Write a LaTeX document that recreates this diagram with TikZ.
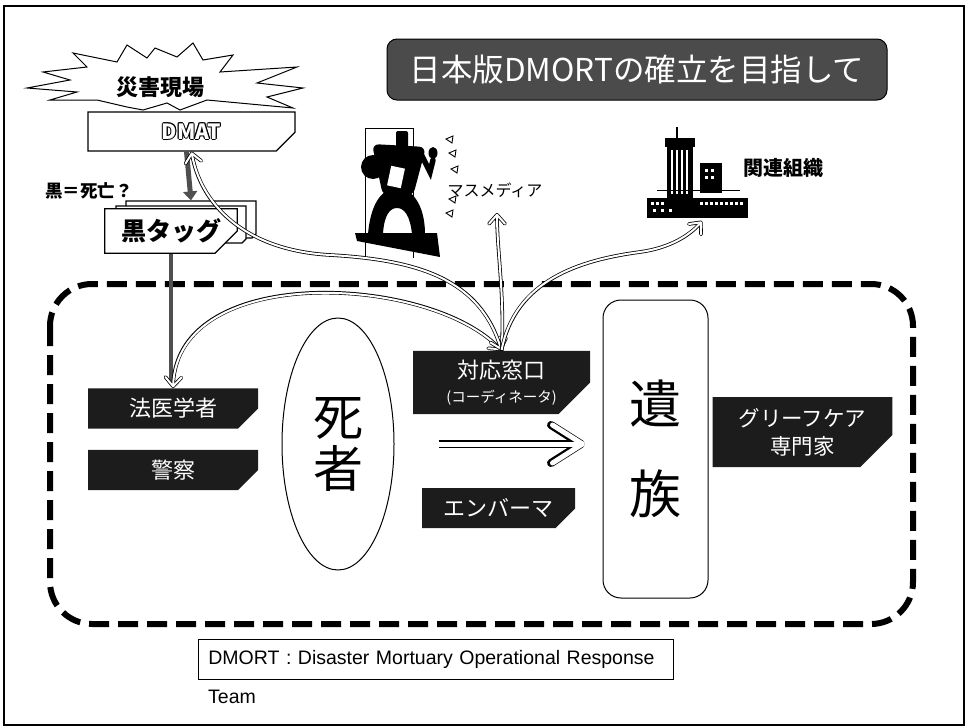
\documentclass[tikz,border=0pt]{standalone}
\usepackage{fontspec}
\setmainfont{Noto Sans CJK JP}
\newfontfamily\latinfont{Liberation Sans}
\usetikzlibrary{arrows.meta, positioning, shapes.misc, shapes.geometric}
\definecolor{boxDark}{HTML}{1C1C1C}
\definecolor{titleGray}{HTML}{4B4B4B}
\definecolor{tagGray}{HTML}{4F4F4F}

% white letters with a black rim
\newcommand\hollowtext[1]{\setbox0=\hbox{#1}%
  \rlap{\color{black}\kern0.9pt\copy0}\rlap{\color{black}\kern-0.9pt\copy0}%
  \rlap{\color{black}\raise0.9pt\copy0}\rlap{\color{black}\lower0.9pt\copy0}%
  \rlap{\color{black}\kern0.65pt\raise0.65pt\copy0}\rlap{\color{black}\kern-0.65pt\raise0.65pt\copy0}%
  \rlap{\color{black}\kern0.65pt\lower0.65pt\copy0}\rlap{\color{black}\kern-0.65pt\lower0.65pt\copy0}%
  {\color{white}\copy0}}

\tikzset{
  darkbox/.style={chamfered rectangle, chamfered rectangle corners=south east,
    chamfered rectangle xsep=24pt, chamfered rectangle ysep=8pt,
    fill=boxDark, text=white, inner sep=2pt, align=center,
    font=\fontsize{22}{28}\selectfont},
  tagbox/.style={chamfered rectangle, chamfered rectangle corners=south east,
    chamfered rectangle xsep=22pt, chamfered rectangle ysep=8pt,
    draw, line width=1.2pt, fill=white, inner sep=2pt},
  link/.style={preaction={draw=black, line width=3.6pt, arrows=#1,
      shorten >=0pt, shorten <=0pt},
    draw=white, line width=2pt, arrows=#1, shorten >=0.8pt, shorten <=0.8pt},
  bigarrow/.style={preaction={draw=black, line width=8pt,
      -{Straight Barb[length=30pt, width=38pt, round]}},
    draw=white, line width=5pt, -{Straight Barb[length=30pt, width=38pt, round]}},
  region/.style={line width=6pt, dash pattern=on 20pt off 9pt, rounded corners=42pt},
}

\begin{document}
\begin{tikzpicture}[x=1pt, y=-1pt, >={Straight Barb[length=9pt, width=16pt, round]}]
  \useasboundingbox (0,0) rectangle (969,728);
  \draw[line width=1.5pt] (4,6) rectangle (964,725);

  % title
  \node[draw, line width=1pt, rounded corners=10pt, fill=titleGray, text=white,
    minimum width=500pt, minimum height=61pt, font=\fontsize{31.5}{34}\selectfont]
    (title) at (637,69.5) {日本版DMORTの確立を目指して};

  % disaster site
  \draw[fill=white, line width=1pt] (27,88) -- (70,80) -- (43,72) -- (87,67) -- (73,53)
    -- (117,62) -- (127,45) -- (147,58) -- (155,48) -- (177,57) -- (193,43) -- (203,60)
    -- (233,55) -- (220,72) -- (297,67) -- (257,83) -- (303,88) -- (267,97) -- (293,108)
    -- (207,100) -- (180,110) -- (167,103) -- (143,110) -- (127,107) -- (97,100)
    -- (50,100) -- (77,92) -- cycle;
  \node[font=\bfseries\fontsize{22}{24}\selectfont] (scene) at (160,87) {災害現場};
  \node[tagbox, minimum width=207pt, minimum height=39pt, chamfered rectangle xsep=26pt,
    font=\bfseries\fontsize{21}{24}\selectfont] (dmat) at (191.5,131.5) {\hollowtext{DMAT}};

  % black tag pile
  \node[tagbox, minimum width=130pt, minimum height=37pt] (tag3) at (191,219.5) {};
  \node[tagbox, minimum width=130pt, minimum height=37pt] (tag2) at (181,224.5) {};
  \node[tagbox, minimum width=130pt, minimum height=42pt,
    font=\bfseries\fontsize{25}{28}\selectfont] (tag) at (171,231) {黒タッグ};
  \node[font=\bfseries\fontsize{17.5}{20}\selectfont] (blackq) at (89,191) {黒＝死亡？};
  \draw[draw=tagGray, line width=5pt, -{Triangle[length=9pt, width=14pt]}]
    ([xshift=-5pt]dmat.south) -- (tag3.north);

  % mass media
  \draw[line width=0.6pt] (365,258) -- (365,128) -- (413,128) -- (413,258);
  \fill (355,233) -- (437,233) -- (440,257) -- (357,241) -- cycle;
  \fill (368,234) .. controls (371,200) and (384,188) .. (397,188)
    .. controls (412,188) and (425,205) .. (425,234) -- (412,234)
    .. controls (410,215) and (404,208) .. (397,208)
    .. controls (390,208) and (384,215) .. (383,234) -- cycle;
  \fill[rounded corners=7pt] (372,144) -- (426,147) -- (413,196) -- (383,196) -- cycle;
  \fill (373,167) circle (12pt);
  \fill[rounded corners=2pt] (396,131) rectangle (408,150);
  \draw[line width=5.5pt, line cap=round] (420,152) -- (430,172) -- (433,160);
  \fill (433,153) ellipse (4.5pt and 6pt);
  \fill[white, rotate around={-12:(396,177)}] (389,167) rectangle (403,187);
  \foreach \x/\y in {446/139, 449/153, 451/169, 449/199, 446/213}
    \draw[line width=0.9pt] (\x,\y) -- ++(7,-3) -- ++(-1,7) -- cycle;
  \node[font=\fontsize{16}{18}\selectfont] (media) at (495,190) {マスメディア};
  \coordinate (mediaIn) at (497,213);

  % related organizations
  \draw[line width=2pt] (677,127) -- (677,139);
  \fill (665,138) rectangle (695,147);
  \fill (667,147) rectangle (693,200);
  \foreach \x in {671,676,681,686}
    \fill[white] (\x,150) rectangle ++(1.8,44);
  \fill (700,163) rectangle (722,193);
  \foreach \x in {705,711} \foreach \y in {169,176}
    \fill[white] (\x,\y) rectangle ++(3,3);
  \draw[line width=1pt] (657,190) -- (740,190);
  \fill (647,198) rectangle (748,218);
  \foreach \x in {651,656,661,700,705,710,715,720,725,730,735,740}
    \fill[white] (\x,202) rectangle ++(2.5,2.5);
  \foreach \x in {653,661,669} \fill[white] (\x,209) rectangle ++(2.5,2.5);
  \node[font=\bfseries\fontsize{20}{22}\selectfont] (org) at (783,168) {関連組織};
  \coordinate (orgIn) at (702,221);

  % response region
  \draw[region] (50,284) rectangle (913,624);
  \node[darkbox, minimum width=170pt, minimum height=39pt] (forensic) at (173,408.5) {法医学者};
  \node[darkbox, minimum width=170pt, minimum height=40pt] (police) at (173,470) {警察};
  \node[ellipse, draw, line width=1pt, minimum width=112pt, minimum height=252pt,
    align=center, font=\fontsize{50}{52}\selectfont] (dead) at (338,444) {死\\者};
  \node[darkbox, minimum width=177pt, minimum height=61pt, inner sep=1pt]
    (desk) at (501.5,382.5) {対応窓口\\[-4pt]{\fontsize{14.5}{16}\selectfont (コーディネータ)}};
  \node[darkbox, minimum width=153pt, minimum height=40pt] (embalm) at (498.5,508) {エンバーマ};
  \node[draw, line width=1pt, rounded corners=18pt, minimum width=105pt,
    minimum height=298pt, align=center, font=\fontsize{52}{90}\selectfont]
    (family) at (655.5,449) {遺\\族};
  \node[darkbox, minimum width=161pt, minimum height=70pt,
    font=\fontsize{21.5}{28}\selectfont] (grief) at (802.5,432) {グリーフケア\\専門家};

  % links
  \draw[draw=tagGray, line width=4pt] (tag.south) -- ([yshift=6pt]tag.south |- forensic.north);
  \draw[bigarrow, shorten <=44pt, shorten >=17.5pt] (dead.east) -- (dead.east -| family.west);
  \draw[link=<->] (desk.north) .. controls (430,275) and (178,262) .. (forensic.north);
  \draw[link=<->] (desk.north) .. controls (480,280) and (420,260) .. (330,255)
    .. controls (240,250) and (200,200) .. (dmat.south);
  \draw[link=->] (desk.north) .. controls (505,300) and (497,250) .. (mediaIn);
  \draw[link=->] (desk.north) .. controls (515,280) and (580,260) .. (640,252)
    .. controls (670,248) and (690,235) .. (orgIn);

  % footnote
  \node[draw, line width=0.8pt, anchor=west, minimum width=475pt, minimum height=40pt,
    inner xsep=10pt, text width=455pt, align=left,
    font=\latinfont\fontsize{19.5}{22}\selectfont] (note) at (198,659)
    {DMORT : Disaster Mortuary Operational Response};
  \node[anchor=west, inner sep=0pt, font=\latinfont\fontsize{19.5}{22}\selectfont]
    (noteTeam) at (208,697) {Team};
\end{tikzpicture}
\end{document}
